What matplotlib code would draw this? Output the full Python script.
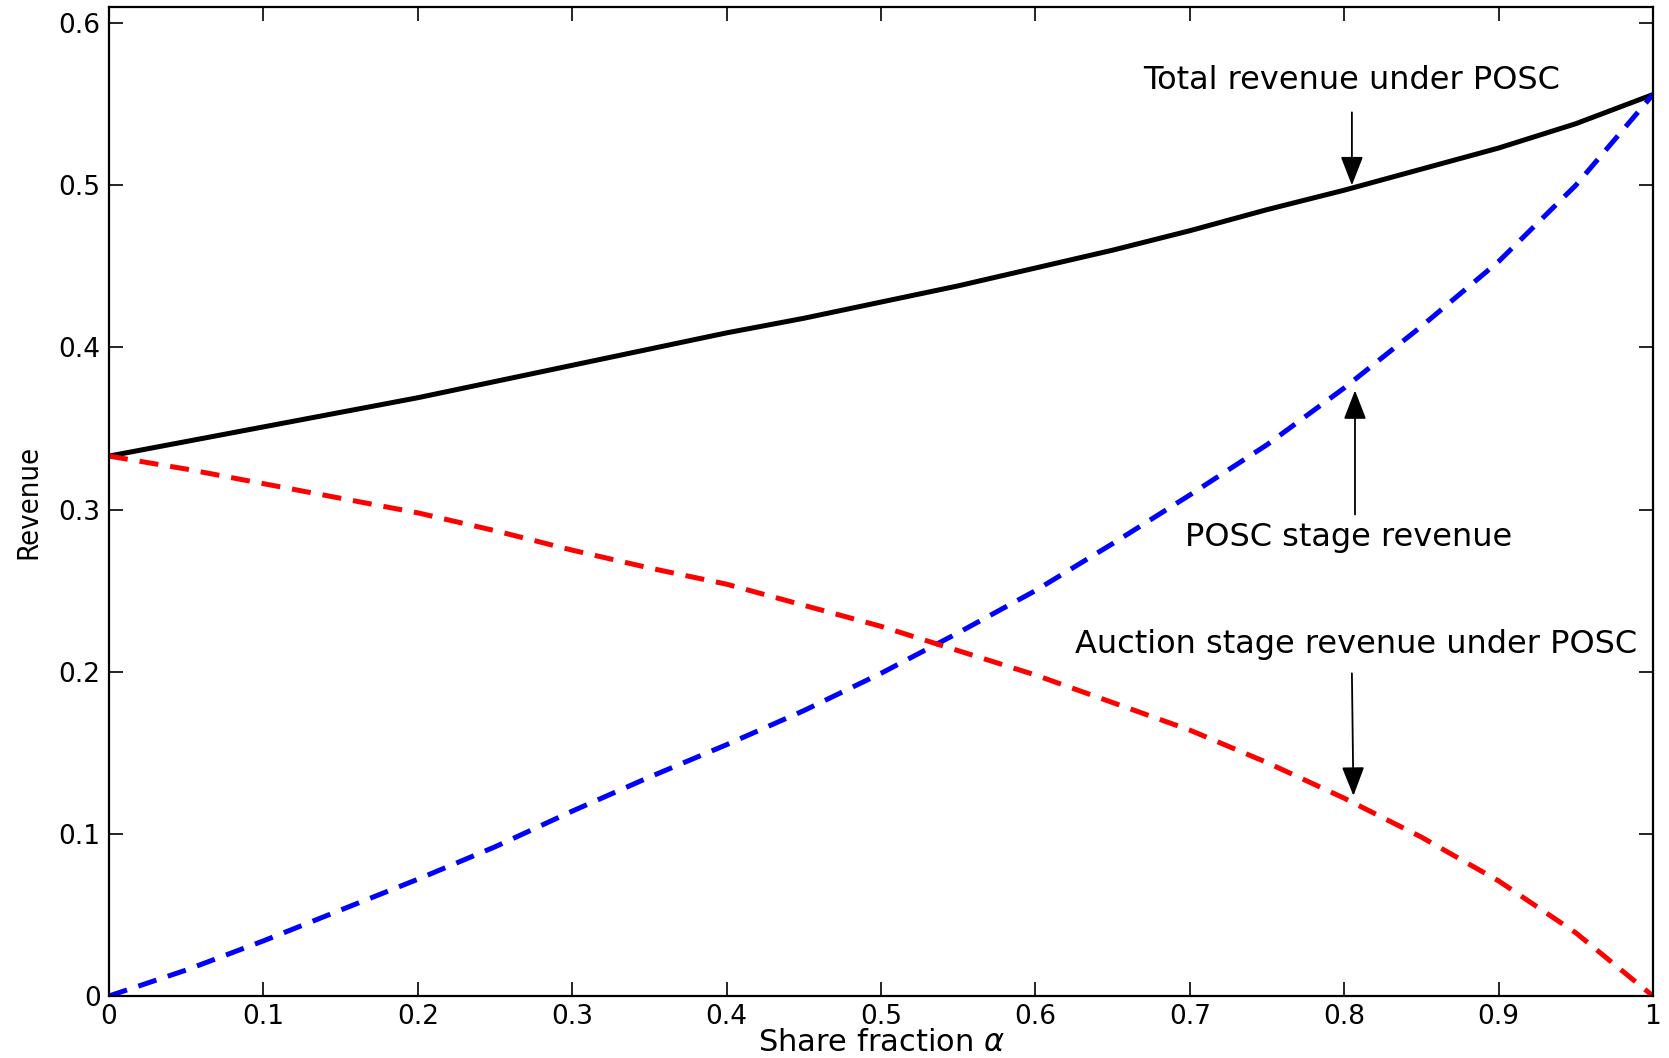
import matplotlib
matplotlib.use("Agg")
import matplotlib.pyplot as plt

alpha = [0.00, 0.05, 0.10, 0.15, 0.20, 0.25, 0.30, 0.35, 0.40, 0.45, 0.50,
         0.55, 0.60, 0.65, 0.70, 0.75, 0.80, 0.85, 0.90, 0.95, 1.00]
total_rev = [0.333, 0.342, 0.351, 0.360, 0.369, 0.379, 0.389, 0.399, 0.409, 0.418, 0.428,
             0.438, 0.449, 0.460, 0.472, 0.485, 0.497, 0.510, 0.523, 0.538, 0.556]
posc_rev = [0.000, 0.016, 0.034, 0.053, 0.072, 0.092, 0.114, 0.135, 0.155, 0.176, 0.199,
            0.224, 0.250, 0.279, 0.309, 0.340, 0.375, 0.413, 0.453, 0.500, 0.556]
auction_rev = [0.333, 0.325, 0.316, 0.307, 0.298, 0.287, 0.275, 0.264, 0.254, 0.241, 0.228,
               0.213, 0.198, 0.181, 0.164, 0.144, 0.122, 0.098, 0.071, 0.039, 0.000]

xticks = [0, 0.1, 0.2, 0.3, 0.4, 0.5, 0.6, 0.7, 0.8, 0.9, 1]
xticklabels = ["0", "0.1", "0.2", "0.3", "0.4", "0.5", "0.6", "0.7", "0.8", "0.9", "1"]
yticks = [0, 0.1, 0.2, 0.3, 0.4, 0.5, 0.6]
yticklabels = ["0", "0.1", "0.2", "0.3", "0.4", "0.5", "0.6"]

plt.rcParams['font.family'] = ['DejaVu Sans']

fig = plt.figure(figsize=(16.69, 10.58), dpi=100)
ax = fig.add_axes([0.0653, 0.0586, 0.9251, 0.9348])

ax.plot(alpha, total_rev, color='black', lw=3.6, solid_capstyle='butt')
ax.plot(alpha, posc_rev, color='#0000ff', lw=3.6, dashes=(3.8, 2.4))
ax.plot(alpha, auction_rev, color='#ff0000', lw=3.6, dashes=(3.8, 2.4))

ax.set_xlim(0, 1)
ax.set_ylim(0, 0.61)
ax.set_xticks(xticks)
ax.set_xticklabels(xticklabels)
ax.set_yticks(yticks)
ax.set_yticklabels(yticklabels)
ax.tick_params(direction='in', length=10, width=1.2, labelsize=19,
               top=True, right=True, pad=6)
for s in ax.spines.values():
    s.set_linewidth(1.6)

ax.set_xlabel(r"Share fraction $\alpha$", fontsize=22, labelpad=-2)
ax.set_ylabel("Revenue", fontsize=21, fontstretch='condensed', labelpad=12)

arrow = dict(arrowstyle='-|>,head_length=1.8,head_width=0.7', color='black',
             lw=1.3, shrinkA=0, shrinkB=0)

ax.text(0.805, 0.5645, "Total revenue under POSC", fontsize=23, ha='center', va='center')
ax.annotate("", xy=(0.805, 0.500), xytext=(0.805, 0.545), arrowprops=arrow)

ax.text(0.803, 0.283, "POSC stage revenue", fontsize=23, ha='center', va='center')
ax.annotate("", xy=(0.807, 0.3735), xytext=(0.807, 0.297), arrowprops=arrow)

ax.text(0.808, 0.2168, "Auction stage revenue under POSC", fontsize=23, ha='center', va='center')
ax.annotate("", xy=(0.806, 0.1235), xytext=(0.805, 0.199), arrowprops=arrow)

fig.savefig("out.png", dpi=100)
